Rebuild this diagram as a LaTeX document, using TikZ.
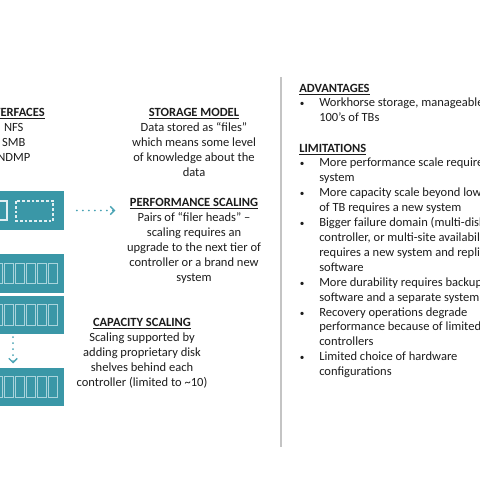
\documentclass[tikz,border=0pt]{standalone}
\usepackage{fontspec}
\setmainfont{Carlito}
\usetikzlibrary{arrows.meta}

\definecolor{shelfteal}{HTML}{3A97A7}
\definecolor{slotedge}{HTML}{A9D4DC}
\definecolor{rulegray}{HTML}{C4C4C4}
\definecolor{ink}{HTML}{1C1C1C}
\definecolor{dotteal}{HTML}{4AA3B4}

\newcommand{\heading}[1]{\underline{\textbf{#1}}}
\newcommand{\bul}{\llap{{\fontsize{6.5}{6.5}\selectfont\textbullet}\hspace{10.6pt}}}

\tikzset{
  blurb/.style={font=\fontsize{8.9}{10.6}\selectfont, text=ink, inner sep=0pt, align=center},
  unitbox/.style={fill=shelfteal, minimum width=3.1cm, minimum height=0.95cm, inner sep=0pt},
  slot/.style={draw=slotedge, line width=0.7pt},
  headslot/.style={draw=white!85!shelfteal, line width=0.8pt},
  dotarrow/.style={dotteal, line width=1.4pt, dash pattern=on 0pt off 4.25pt, line cap=round,
    -{Straight Barb[length=3pt,width=6pt,line width=1pt]}},
}

\begin{document}
\begin{tikzpicture}[x=0.025cm,y=-0.025cm]
\useasboundingbox (0,0) rectangle (480,480);
\clip (0,0) rectangle (480,480);

% filer head and disk shelves
\node[unitbox] (ctrl) at (2,210.5) {};
\node[unitbox] (shelfA) at (2,273.5) {};
\node[unitbox] (shelfB) at (2,315) {};
\node[unitbox] (shelfC) at (2,387) {};

\draw[headslot] (-30,201) rectangle (7,220);
\draw[headslot, dash pattern=on 2pt off 1.4pt] (16,201) rectangle (53,221);

\foreach \s in {shelfA,shelfB,shelfC}
  \foreach \k in {0,...,6}
    \draw[slot] ([xshift={-(0.18+0.275*\k)*1cm}, yshift=0.26cm]\s.east) rectangle ++(-0.21cm,-0.52cm);

% text blocks
\node[blurb, anchor=north east] (iface) at (45,108) {\heading{INTERFACES}\\NFS\\SMB\\NDMP};
\node[blurb, anchor=north] (store) at (194,108) {\heading{STORAGE MODEL}\\Data stored as “files”\\which means some level\\of knowledge about the\\data};
\node[blurb, anchor=north] (perf) at (194,198) {\heading{PERFORMANCE SCALING}\\Pairs of “filer heads” –\\scaling requires an\\upgrade to the next tier of\\controller or a brand new\\system};
\node[blurb, anchor=north] (cap) at (142,318) {\heading{CAPACITY SCALING}\\Scaling supported by\\adding proprietary disk\\shelves behind each\\controller (limited to \textasciitilde10)};

% scaling arrows
\coordinate (dropline) at (13,0);
\draw[dotarrow, shorten <=9pt, shorten >=8pt] (ctrl.east) -- (ctrl.east -| perf.west);
\draw[dotarrow, shorten <=2pt, shorten >=3pt] (shelfB.south -| dropline) -- (shelfC.north -| dropline);

% separator
\draw[rulegray, line width=1.5pt] (281,77) -- (281,447);

% advantages / limitations
\node[blurb, align=left, anchor=north west] (advhead) at (299,84) {\heading{ADVANTAGES}};
\node[blurb, align=left, anchor=north west] (advtext) at (319,98) {\bul Workhorse storage, manageable\\100’s of TBs};
\node[blurb, align=left, anchor=north west] (limhead) at (299,144) {\heading{LIMITATIONS}};
\node[blurb, align=left, anchor=north west] (limtext) at (319,158) {\bul More performance scale requires\\system\\
\bul More capacity scale beyond low\\of TB requires a new system\\
\bul Bigger failure domain (multi-disk,\\controller, or multi-site availability\\requires a new system and replication\\software\\
\bul More durability requires backup\\software and a separate system\\
\bul Recovery operations degrade\\performance because of limited\\controllers\\
\bul Limited choice of hardware\\configurations};
\end{tikzpicture}
\end{document}
